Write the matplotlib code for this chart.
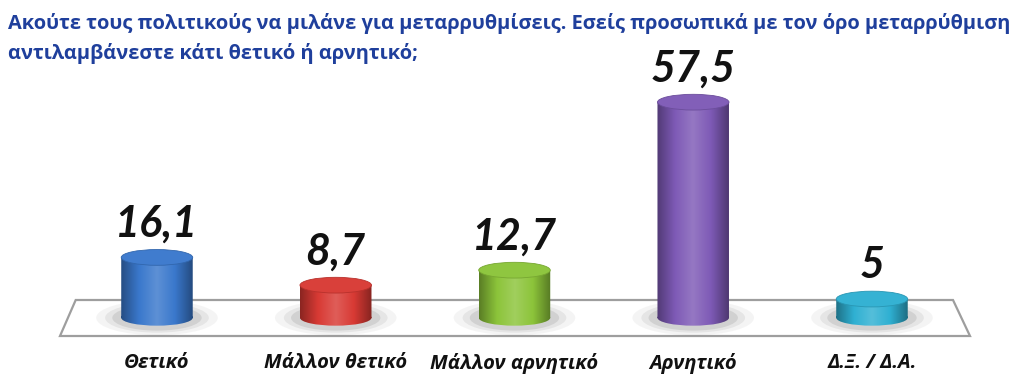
import matplotlib
matplotlib.use("Agg")
import matplotlib.pyplot as plt
import numpy as np
from matplotlib.patches import Ellipse, Rectangle, Polygon
from matplotlib.path import Path
from matplotlib.colors import LinearSegmentedColormap, to_rgb

categories = ["Θετικό", "Μάλλον θετικό", "Μάλλον αρνητικό", "Αρνητικό", "Δ.Ξ. / Δ.Α."]
values = [16.1, 8.7, 12.7, 57.5, 5]
value_labels = ["16,1", "8,7", "12,7", "57,5", "5"]
colors = ["#3A78CC", "#D83A34", "#8CC43A", "#7E5AB6", "#2FB0D2"]
title_lines = ["Ακούτε τους πολιτικούς να μιλάνε για μεταρρυθμίσεις. Εσείς προσωπικά με τον όρο μεταρρύθμιση",
               "αντιλαμβάνεστε κάτι θετικό ή αρνητικό;"]

W, H = 1024, 381
fig = plt.figure(figsize=(W / 100, H / 100), dpi=100)
fig.patch.set_facecolor("white")

# floor parallelogram (figure pixel coords)
floor = Polygon([(75.7 / W, 1 - 300 / H), (953 / W, 1 - 300 / H),
                 (970 / W, 1 - 336 / H), (60 / W, 1 - 336 / H)],
                closed=True, transform=fig.transFigure, facecolor="white",
                edgecolor="#9E9E9E", linewidth=1.6, zorder=-1)
fig.patches.append(floor)

ax = fig.add_axes([67.6 / W, 25.7 / H, 893.75 / W, 300 / H])
ax.set_xlim(-0.5, 4.5)
ax.set_ylim(-10, 70)
ax.axis("off")
ax.patch.set_alpha(0)

bw = 0.40
eh = 4.2  # ellipse height in data units


def shade(c, f):
    r = np.array(to_rgb(c))
    if f >= 1:
        return tuple(r + (1 - r) * (f - 1))
    return tuple(r * f)


xs = np.arange(len(values))
for x, v, c in zip(xs, values, colors):
    # soft shadow
    for k, a in zip([1.7, 1.45, 1.25], [0.08, 0.12, 0.18]):
        ax.add_patch(Ellipse((x, 0), bw * k, eh * 1.3 * k, facecolor="#7A7A7A",
                             edgecolor="none", alpha=a, zorder=1))
    cmap = LinearSegmentedColormap.from_list(
        "g", [shade(c, 0.64), shade(c, 1.0), shade(c, 1.18), shade(c, 1.0), shade(c, 0.62)])
    grad = np.linspace(0, 1, 256)[None, :]
    be = Ellipse((x, 0), bw, eh, facecolor="none", edgecolor="none", zorder=2)
    ax.add_patch(be)
    im = ax.imshow(grad, extent=[x - bw / 2, x + bw / 2, -eh / 2, v], cmap=cmap,
                   aspect="auto", zorder=3, interpolation="bilinear")
    body = Rectangle((x - bw / 2, 0), bw, v, facecolor="none", edgecolor="none")
    ax.add_patch(body)
    rect_path = body.get_patch_transform().transform_path(body.get_path())
    ell_path = be.get_patch_transform().transform_path(be.get_path())
    clip = Path.make_compound_path(rect_path, ell_path)
    im.set_clip_path(clip, ax.transData)
    # top ellipse
    ax.add_patch(Ellipse((x, v), bw, eh, facecolor=shade(c, 1.03),
                         edgecolor=shade(c, 0.85), linewidth=0.6, zorder=4))

for x, v, lab in zip(xs, values, value_labels):
    ax.annotate(lab, (x, v), xytext=(0, 15), textcoords="offset points",
                ha="center", va="baseline", fontsize=31, fontweight="bold",
                fontstyle="italic", family=["Lato", "DejaVu Sans"], color="#111111",
                zorder=6)

for x, lab in zip(xs, categories):
    fig.text((67.6 + (x + 0.5) * 178.75) / W, 1 - 363 / H, lab, ha="center", va="center",
             fontsize=14.5, fontweight="bold", fontstyle="italic",
             family=["Open Sans", "DejaVu Sans"], color="#111111")

for i, (line, yb) in enumerate(zip(title_lines, [29, 59])):
    fig.text(8 / W, 1 - yb / H, line, ha="left", va="baseline", fontsize=14.4,
             fontweight="bold", family=["Open Sans", "DejaVu Sans"], color="#1F3F9C")

fig.savefig("out.png", dpi=100, facecolor="white")
